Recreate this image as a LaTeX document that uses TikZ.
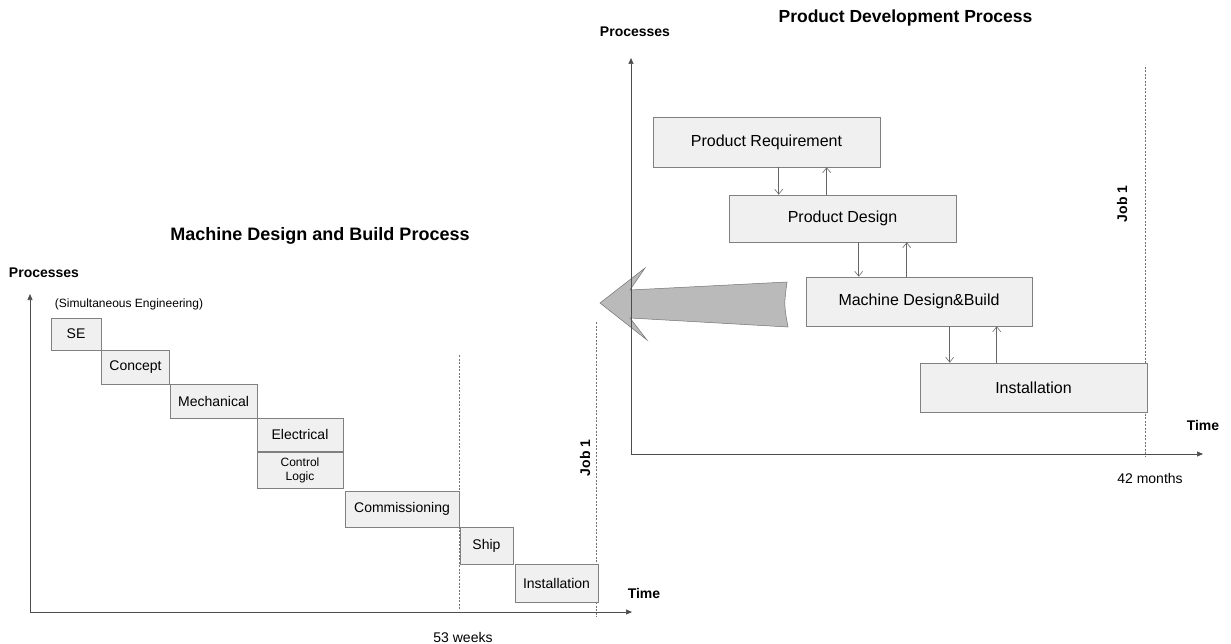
\documentclass[tikz,border=0pt]{standalone}
\usepackage{fontspec}
\setmainfont{Liberation Sans}
\usetikzlibrary{arrows.meta,calc}
\begin{document}
\begin{tikzpicture}[x=1pt,y=-1pt,
  stage/.style={draw=black!50, fill=black!6, line width=0.6pt, inner sep=0pt,
    align=center, font=\fontsize{14}{15}\selectfont},
  smallstage/.style={stage, font=\fontsize{12}{14}\selectfont},
  pstage/.style={stage, font=\fontsize{16}{18}\selectfont},
  axis/.style={draw=black!70, line width=0.7pt, -{Triangle[length=6pt,width=5pt]}},
  guide/.style={draw=black!55, line width=0.6pt, dash pattern=on 2pt off 1.5pt},
  link/.style={draw=black!60, line width=0.6pt, -{Straight Barb[length=5pt,width=8pt]}},
  heading/.style={font=\bfseries\fontsize{18}{20}\selectfont},
  axlabel/.style={font=\bfseries\fontsize{14}{16}\selectfont},
  note/.style={font=\fontsize{14}{16}\selectfont}]
\useasboundingbox (0,0) rectangle (1231,644);

% ---------------- Machine design and build process ----------------
\node[heading] (mtitle) at (320,236) {Machine Design and Build Process};
\node[axlabel] (mproc) at (44,273) {Processes};
\node[font=\fontsize{12}{14}\selectfont] (simeng) at (129,304) {(Simultaneous Engineering)};

\coordinate (mo) at (30,612);
\coordinate (mytop) at (30,294);
\coordinate (mxend) at (632,612);
\draw[axis] (mo) -- (mytop);
\draw[axis] (mo) -- (mxend);

\coordinate (wk-top) at (459,355);
\coordinate (wk-bot) at (459,610);
\draw[guide] (wk-top) -- (wk-bot);
\coordinate (mjob-top) at (596,322);
\coordinate (mjob-bot) at (596,617);
\draw[guide] (mjob-top) -- (mjob-bot);

\node[stage, minimum width=50pt, minimum height=32pt] (se) at (76,334) {SE};
\node[stage, minimum width=68pt, minimum height=34pt] (concept) at (135.5,367) {Concept};
\node[stage, minimum width=87pt, minimum height=34pt] (mech) at (213.5,401) {Mechanical};
\node[stage, minimum width=86pt, minimum height=33pt] (elec) at (300,434.5) {Electrical};
\node[smallstage, minimum width=86pt, minimum height=36pt] (ctrl) at (300,470) {Control\\Logic};
\node[stage, minimum width=114pt, minimum height=36pt] (comm) at (402,509) {Commissioning};
\node[stage, minimum width=53pt, minimum height=37pt] (ship) at (486.5,545.5) {Ship};
\node[stage, minimum width=83pt, minimum height=38pt] (minst) at (556.5,583) {Installation};

\node[axlabel, rotate=90] (mjob) at (585,458) {Job 1};
\node[axlabel] (mtime) at (644,593) {Time};
\node[note] (weeks) at (463,637) {53 weeks};

% ---------------- Transfer arrow ----------------
\draw[fill=black!27, draw=black!55, line width=0.5pt]
  (600,303) -- (645,268) -- (630,290) -- (787,282)
  .. controls (784,305) .. (788,327) -- (630,318) -- (647,340) -- cycle;

% ---------------- Product development process ----------------
\node[heading, font=\bfseries\fontsize{17.5}{20}\selectfont] (ptitle) at (905.5,18) {Product Development Process};
\node[axlabel] (pproc) at (635,32) {Processes};

\coordinate (po) at (631,454);
\coordinate (pytop) at (631,58);
\coordinate (pxend) at (1203,454);
\draw[axis] (po) -- (pytop);
\draw[axis] (po) -- (pxend);

\coordinate (pjob-top) at (1145,67);
\coordinate (pjob-bot) at (1145,456);
\draw[guide] (pjob-top) -- (pjob-bot);

\node[pstage, minimum width=227pt, minimum height=50pt] (req) at (766.5,142) {Product Requirement};
\node[pstage, minimum width=227pt, minimum height=47pt] (pdes) at (842.5,218.5) {Product Design};
\node[pstage, minimum width=226pt, minimum height=49pt] (mdb) at (919,301.5) {Machine Design\&Build};
\node[pstage, minimum width=227pt, minimum height=49pt] (pinst) at (1033.5,387.5) {Installation};

\coordinate (r-dn) at ($(req.south west)+(126,0)$);
\coordinate (r-up) at ($(req.south west)+(174,0)$);
\draw[link] (r-dn) -- (r-dn |- pdes.north);
\draw[link] (r-up |- pdes.north) -- (r-up);

\coordinate (d-dn) at ($(pdes.south west)+(130,0)$);
\coordinate (d-up) at ($(pdes.south west)+(178,0)$);
\draw[link] (d-dn) -- (d-dn |- mdb.north);
\draw[link] (d-up |- mdb.north) -- (d-up);

\coordinate (b-dn) at ($(mdb.south west)+(144,0)$);
\coordinate (b-up) at ($(mdb.south west)+(191,0)$);
\draw[link] (b-dn) -- (b-dn |- pinst.north);
\draw[link] (b-up |- pinst.north) -- (b-up);

\node[axlabel, rotate=90] (pjob) at (1122,204) {Job 1};
\node[axlabel] (ptime) at (1203,425) {Time};
\node[note] (months) at (1150,478) {42 months};
\end{tikzpicture}
\end{document}
